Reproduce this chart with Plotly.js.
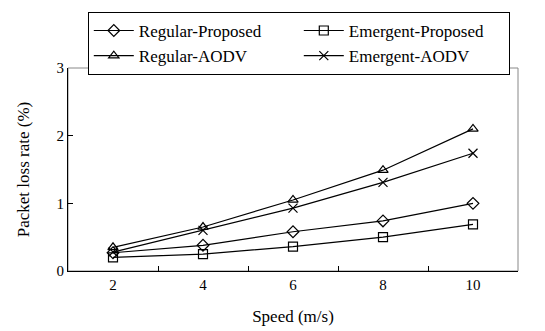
<!DOCTYPE html>
<html><head><meta charset="utf-8">
<script src="https://cdn.plot.ly/plotly-3.0.1.min.js"></script>
<style>
html,body{margin:0;padding:0;background:#fff}
</style>
</head><body><div id="chart" style="width:545px;height:331px"></div>
<script>
const speeds = ['2','4','6','8','10'];
const regularProposed = [0.27, 0.38, 0.58, 0.74, 1.0];
const emergentProposed = [0.2, 0.25, 0.36, 0.5, 0.69];
const regularAODV = [0.35, 0.65, 1.05, 1.49, 2.1];
const emergentAODV = [0.28, 0.6, 0.93, 1.31, 1.74];
const yTicks = [0, 1, 2, 3];

const FAM = 'Times New Roman';
function tr(name, y, sym) {
  return {x: speeds, y: y, name: name, type: 'scatter', mode: 'lines+markers',
    line: {color: '#000', width: 1.2},
    marker: {symbol: sym, size: 9, color: '#000', line: {color: '#000', width: 1.2}}};
}
const data = [
  tr('Regular-Proposed', regularProposed, 'diamond-open'),
  tr('Emergent-Proposed', emergentProposed, 'square-open'),
  tr('Regular-AODV', regularAODV, 'triangle-up-open'),
  tr('Emergent-AODV', emergentAODV, 'x-thin-open')
];
const layout = {
  width: 545, height: 331,
  margin: {l: 68, r: 27, t: 68, b: 60},
  paper_bgcolor: '#fff', plot_bgcolor: '#fff',
  font: {family: FAM, size: 15, color: '#000'},
  showlegend: true,
  legend: {orientation: 'h', x: 0.044, y: 1.276, xanchor: 'left', yanchor: 'top',
    bordercolor: '#000', borderwidth: 1, entrywidth: 155, itemwidth: 40,
    font: {family: FAM, size: 17, color: '#000'}, tracegroupgap: 0},
  xaxis: {type: 'category', range: [-0.5, 4.5], tickson: 'boundaries', ticks: 'inside', ticklen: 5,
    tickcolor: '#000', showline: true, linecolor: '#000', linewidth: 1, showgrid: false, zeroline: false,
    tickfont: {family: FAM, size: 15, color: '#000'},
    title: {text: 'Speed (m/s)', font: {family: FAM, size: 17, color: '#000'}, standoff: 18}},
  yaxis: {range: [0, 3], tickvals: yTicks, ticks: 'inside', ticklen: 5, tickcolor: '#000',
    showline: true, linecolor: '#000', linewidth: 1, showgrid: false, zeroline: false,
    tickfont: {family: FAM, size: 15, color: '#000'},
    title: {text: 'Packet loss rate (%)', font: {family: FAM, size: 17, color: '#000'}, standoff: 22}},
  shapes: [{type: 'rect', xref: 'paper', yref: 'paper', x0: 0, x1: 1, y0: 0, y1: 1,
    line: {color: '#888', width: 1}, layer: 'below'}]
};
Plotly.newPlot('chart', data, layout, {displayModeBar: false}).then(function () {
  document.querySelectorAll('#chart text, #chart tspan').forEach(function (t) {
    t.style.setProperty('font-family', "'Liberation Serif', 'Times New Roman', serif", 'important');
  });
});
</script></body></html>
